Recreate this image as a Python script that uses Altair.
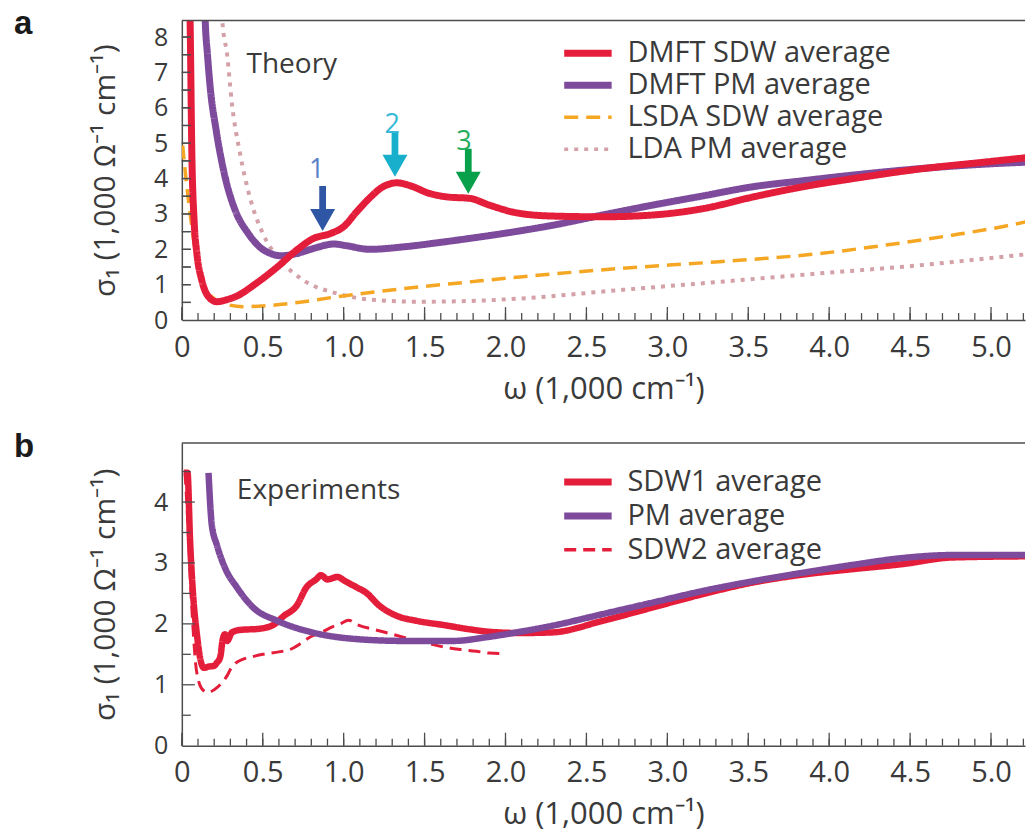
import altair as alt
import pandas as pd

# ---------------- panel a : theory ----------------
a_sdw_x = [0.04, 0.052, 0.062, 0.076, 0.093, 0.123, 0.165, 0.216, 0.28, 0.34, 0.46, 0.59, 0.71, 0.81, 0.92, 1.0,
           1.08, 1.16, 1.24, 1.33, 1.41, 1.53, 1.64, 1.78, 1.9, 2.07, 2.29, 2.6, 2.91, 3.22, 3.53, 3.84, 4.15,
           4.56, 4.97, 5.26]
a_sdw_y = [11.0, 8.2, 4.7, 2.8, 1.88, 1.13, 0.66, 0.52, 0.58, 0.68, 1.04, 1.5, 1.98, 2.3, 2.45, 2.64,
           3.06, 3.45, 3.76, 3.88, 3.8, 3.58, 3.48, 3.44, 3.25, 3.03, 2.94, 2.92, 2.97, 3.15, 3.48, 3.77, 4.0,
           4.27, 4.47, 4.61]

a_pm_x = [0.13, 0.145, 0.158, 0.175, 0.212, 0.267, 0.33, 0.41, 0.48, 0.55, 0.61, 0.71, 0.81, 0.94, 1.02, 1.16,
          1.37, 1.57, 1.78, 1.99, 2.29, 2.6, 2.91, 3.22, 3.53, 3.84, 4.15, 4.56, 4.97, 5.26]
a_pm_y = [11.0, 8.4, 7.53, 6.59, 5.37, 4.05, 3.1, 2.45, 2.07, 1.88, 1.82, 1.88, 2.02, 2.15, 2.1, 2.0,
          2.07, 2.18, 2.31, 2.45, 2.68, 2.97, 3.25, 3.51, 3.77, 3.94, 4.1, 4.28, 4.41, 4.47]

a_lsda_x = [0.005, 0.031, 0.062, 0.093, 0.134, 0.185, 0.257, 0.38, 0.5, 0.65, 0.96, 1.37, 1.78, 2.09, 2.71,
            3.32, 3.94, 4.35, 4.76, 5.07, 5.26]
a_lsda_y = [4.94, 3.77, 2.64, 1.69, 1.04, 0.66, 0.47, 0.38, 0.40, 0.46, 0.66, 0.89, 1.08, 1.22, 1.46,
            1.65, 1.88, 2.12, 2.4, 2.64, 2.82]

a_lda_x = [0.235, 0.25, 0.28, 0.31, 0.36, 0.42, 0.5, 0.61, 0.75, 0.96, 1.16, 1.47, 1.78, 2.09, 2.71, 3.32,
           3.94, 4.56, 4.97, 5.26]
a_lda_y = [11.5, 8.47, 7.5, 6.1, 4.7, 3.48, 2.45, 1.69, 1.13, 0.75, 0.58, 0.52, 0.54, 0.61, 0.85, 1.08,
           1.32, 1.55, 1.74, 1.88]

a_series = ["DMFT SDW average", "DMFT PM average", "LSDA SDW average", "LDA PM average"]
a_colors = ["#e41d3a", "#7d4a9c", "#f5a623", "#d4a1a8"]
a_dashes = [[1, 0], [1, 0], [14, 8], [4, 6]]
a_widths = [7, 7, 3.5, 4]

arrow_x = [0.87, 1.317, 1.77]
arrow_y = [2.52, 4.05, 3.57]
arrow_colors = ["#2f56a5", "#18afcc", "#08a04a"]
arrow_labels = ["1", "2", "3"]
arrow_label_x = [0.833, 1.30, 1.743]
arrow_label_y = [4.24, 5.5, 5.04]
arrow_label_colors = ["#5a80c8", "#36b8d6", "#27ad5e"]

# ---------------- panel b : experiments ----------------
b_sdw1_x = [0.012, 0.035, 0.051, 0.068, 0.093, 0.117, 0.135, 0.17, 0.2, 0.216, 0.237, 0.253, 0.267, 0.28,
            0.31, 0.36, 0.48, 0.57, 0.63, 0.71, 0.77, 0.83, 0.86, 0.9, 0.96, 1.01, 1.08, 1.14, 1.22, 1.33,
            1.45, 1.62, 1.78, 1.9, 2.09, 2.29, 2.6, 2.91, 3.22, 3.53, 3.84, 4.15, 4.45, 4.76, 5.26]
b_sdw1_y = [4.48, 4.48, 3.36, 2.54, 1.83, 1.39, 1.28, 1.3, 1.31, 1.36, 1.45, 1.75, 1.83, 1.72,
            1.86, 1.9, 1.92, 1.99, 2.13, 2.3, 2.6, 2.73, 2.8, 2.73, 2.77, 2.7, 2.6, 2.51, 2.3, 2.13,
            2.05, 1.98, 1.91, 1.87, 1.85, 1.86, 2.05, 2.27, 2.49, 2.68, 2.81, 2.9, 2.98, 3.09, 3.11]

b_pm_x = [0.165, 0.185, 0.216, 0.27, 0.34, 0.44, 0.59, 0.79, 1.08, 1.37, 1.68, 1.88, 2.09, 2.29, 2.6, 2.91,
          3.22, 3.53, 3.84, 4.15, 4.45, 4.76, 5.26]
b_pm_y = [4.48, 3.63, 3.3, 2.9, 2.6, 2.27, 2.05, 1.87, 1.75, 1.72, 1.72, 1.78, 1.87, 1.97, 2.16, 2.35,
          2.54, 2.7, 2.84, 2.97, 3.08, 3.13, 3.13]

b_sdw2_x = [0.02, 0.04, 0.055, 0.07, 0.085, 0.1, 0.12, 0.16, 0.2, 0.24, 0.28, 0.3, 0.33, 0.38, 0.45, 0.5,
            0.6, 0.67, 0.73, 0.79, 0.87, 0.93, 0.98, 1.03, 1.08, 1.2, 1.3, 1.41, 1.52, 1.62, 1.72, 1.82,
            1.9, 2.0]
b_sdw2_y = [4.48, 3.5, 2.6, 1.9, 1.35, 1.1, 0.95, 0.87, 0.92, 1.01, 1.15, 1.25, 1.35, 1.42, 1.47, 1.5,
            1.54, 1.58, 1.67, 1.78, 1.87, 1.95, 2.0, 2.06, 1.99, 1.9, 1.83, 1.75, 1.68, 1.62, 1.58, 1.55,
            1.52, 1.51]

b_series = ["SDW1 average", "PM average", "SDW2 average"]
b_colors = ["#e41d3a", "#7d4a9c", "#e41d3a"]
b_dashes = [[1, 0], [1, 0], [12, 7]]
b_widths = [6.5, 6.5, 3]

# ---------------- axes ----------------
x_labels = [0, 0.5, 1.0, 1.5, 2.0, 2.5, 3.0, 3.5, 4.0, 4.5, 5.0]
x_minor = [round(i * 0.1, 1) for i in range(53)]
a_y_labels = [0, 1, 2, 3, 4, 5, 6, 7, 8]
a_y_ticks = [0.5, 1, 1.5, 2, 2.5, 3, 3.5, 4, 4.5, 5, 5.5, 6, 6.5, 7, 7.5, 8]
b_y_labels = [0, 1, 2, 3, 4]
b_y_minor = [0.5, 1.5, 2.5, 3.5, 4.5]

W = 844
XMAX = 5.21
FRAME = "#4d4d4d"
TXT = "#3a3a3a"
FONT = "Open Sans"

x_title = "ω (1,000 cm⁻¹)"
y_title = "σ₁ (1,000 Ω⁻¹ cm⁻¹)"


def lines_frame(groups, series, widths):
    rows = []
    for name, xs, ys in groups:
        w = widths[series.index(name)]
        for xv, yv in zip(xs, ys):
            rows.append({"x": xv, "y": yv, "series": name, "w": w})
    return pd.DataFrame(rows)


def panel(df, series, colors, dashes, ymax, H, y_labels, y_major, y_major_len, y_minor,
          legend_y, row_pad, letter, extra_layers):
    xs = alt.Scale(domain=[0, XMAX], nice=False, zero=False)
    ys = alt.Scale(domain=[0, ymax], nice=False, zero=False)
    xax = alt.Axis(values=x_labels, labelExpr="datum.value == 0 ? '0' : format(datum.value, '.1f')",
                   labelFontSize=29, labelPadding=13, title=x_title, titleFontSize=31,
                   titlePadding=12, ticks=False, grid=False, domain=True)
    yax = alt.Axis(values=y_labels, format="d", labelFontSize=25, labelPadding=14,
                   title=y_title, titleFontSize=30, titlePadding=33, ticks=False, grid=False, domain=True)
    X = lambda f: alt.X(f, scale=xs, axis=xax, title=x_title)
    Y = lambda f: alt.Y(f, scale=ys, axis=yax, title=y_title)

    thin = ["LSDA SDW average", "LDA PM average", "SDW2 average"]
    sw_expr = "(datum && indexof(" + str(thin) + ", datum.value) >= 0) ? 3.5 : 7"
    leg = alt.Legend(orient="none", legendX=392, legendY=legend_y, title=None,
                     symbolType="M-2.5,0H2.5", symbolSize=361, labelOffset=25, labelLimit=500,
                     rowPadding=row_pad, labelFontSize=29, labelFont=FONT, labelColor=TXT,
                     symbolStrokeWidth=alt.ExprRef(sw_expr), padding=0)

    lines = alt.Chart(df).mark_line(interpolate="monotone", clip=True).encode(
        x=X("x:Q"),
        y=Y("y:Q"),
        color=alt.Color("series:N", scale=alt.Scale(domain=series, range=colors), legend=leg),
        strokeDash=alt.StrokeDash("series:N", scale=alt.Scale(domain=series, range=dashes), legend=leg),
        strokeWidth=alt.StrokeWidth("w:Q", scale=None, legend=None),
    )

    one = pd.DataFrame({"k": [0]})
    top = alt.Chart(one).mark_rule(color=FRAME, strokeWidth=1.5).encode(
        x=alt.value(0), x2=alt.value(W), y=alt.value(0))
    xmin = alt.Chart(pd.DataFrame({"x": x_minor})).mark_rule(color=FRAME, strokeWidth=1.3).encode(
        x=X("x:Q"), y=alt.value(H), y2=alt.value(H - 7))
    xmaj = alt.Chart(pd.DataFrame({"x": x_labels})).mark_rule(color=FRAME, strokeWidth=1.3).encode(
        x=X("x:Q"), y=alt.value(H), y2=alt.value(H - 13))
    ymaj = alt.Chart(pd.DataFrame({"y": y_major})).mark_rule(color=FRAME, strokeWidth=1.3).encode(
        y=Y("y:Q"), x=alt.value(0), x2=alt.value(y_major_len))
    ymin = alt.Chart(pd.DataFrame({"y": y_minor})).mark_rule(color=FRAME, strokeWidth=1.3).encode(
        y=Y("y:Q"), x=alt.value(0), x2=alt.value(9))
    let = alt.Chart(one).mark_text(font="Liberation Sans", fontWeight="bold", fontSize=33,
                                   align="left", baseline="top", color="#1a1a1a").encode(
        x=alt.value(-168), y=alt.value(-12), text=alt.value(letter))

    layers = [lines, top, xmin, xmaj, ymaj, ymin] + [l(X, Y) for l in extra_layers] + [let]
    return alt.layer(*layers).properties(width=W, height=H)


def a_text(X, Y):
    return alt.Chart(pd.DataFrame({"x": [0.4], "y": [6.98], "t": ["Theory"]})).mark_text(
        font=FONT, fontSize=28, align="left", baseline="alphabetic", color=TXT).encode(
        x=X("x:Q"), y=Y("y:Q"), text="t:N")


ARROW = "M0,0L-1,-1.76L-0.27,-1.76L-0.27,-3.6L0.27,-3.6L0.27,-1.76L1,-1.76Z"


def a_arrows(X, Y):
    return alt.Chart(pd.DataFrame({"x": arrow_x, "y": arrow_y, "c": arrow_colors})).mark_point(
        shape=ARROW, filled=True, size=625, opacity=1, strokeWidth=0).encode(
        x=X("x:Q"), y=Y("y:Q"), color=alt.Color("c:N", scale=None))


def a_arrow_labels(X, Y):
    return alt.Chart(pd.DataFrame({"x": arrow_label_x, "y": arrow_label_y, "t": arrow_labels,
                                   "c": arrow_label_colors})).mark_text(
        font=FONT, fontSize=27, align="center", baseline="middle").encode(
        x=X("x:Q"), y=Y("y:Q"), text="t:N", color=alt.Color("c:N", scale=None))


def b_text(X, Y):
    return alt.Chart(pd.DataFrame({"x": [0.34], "y": [4.05], "t": ["Experiments"]})).mark_text(
        font=FONT, fontSize=28, align="left", baseline="alphabetic", color=TXT).encode(
        x=X("x:Q"), y=Y("y:Q"), text="t:N")


df_a = lines_frame([("LDA PM average", a_lda_x, a_lda_y),
                    ("LSDA SDW average", a_lsda_x, a_lsda_y),
                    ("DMFT PM average", a_pm_x, a_pm_y),
                    ("DMFT SDW average", a_sdw_x, a_sdw_y)], a_series, a_widths)
df_b = lines_frame([("SDW2 average", b_sdw2_x, b_sdw2_y),
                    ("SDW1 average", b_sdw1_x, b_sdw1_y),
                    ("PM average", b_pm_x, b_pm_y)], b_series, b_widths)

pa = panel(df_a, a_series, a_colors, a_dashes, 8.47, 300, a_y_labels, a_y_ticks, 9, a_y_ticks,
           18.5, 2, "a", [a_text, a_arrows, a_arrow_labels])
pb = panel(df_b, b_series, b_colors, b_dashes, 4.97, 303, b_y_labels, b_y_labels[1:], 13, b_y_minor,
           24.5, 4, "b", [b_text])

chart = alt.vconcat(pa, pb, spacing=27).resolve_scale(
    x="independent", y="independent", color="independent", strokeDash="independent"
).resolve_legend(color="independent", strokeDash="independent").properties(
    padding={"left": 6, "top": 0, "right": 0, "bottom": 0}, background="white"
).configure_view(stroke=None).configure_axis(
    labelFont=FONT, titleFont=FONT, labelColor=TXT, titleColor=TXT, domainColor=FRAME,
    domainWidth=1.5, grid=False, ticks=False, labelFlush=False, labelOverlap=False,
    titleFontWeight="normal"
)

chart.save("out.html", embed_options={"renderer": "svg", "actions": False})
